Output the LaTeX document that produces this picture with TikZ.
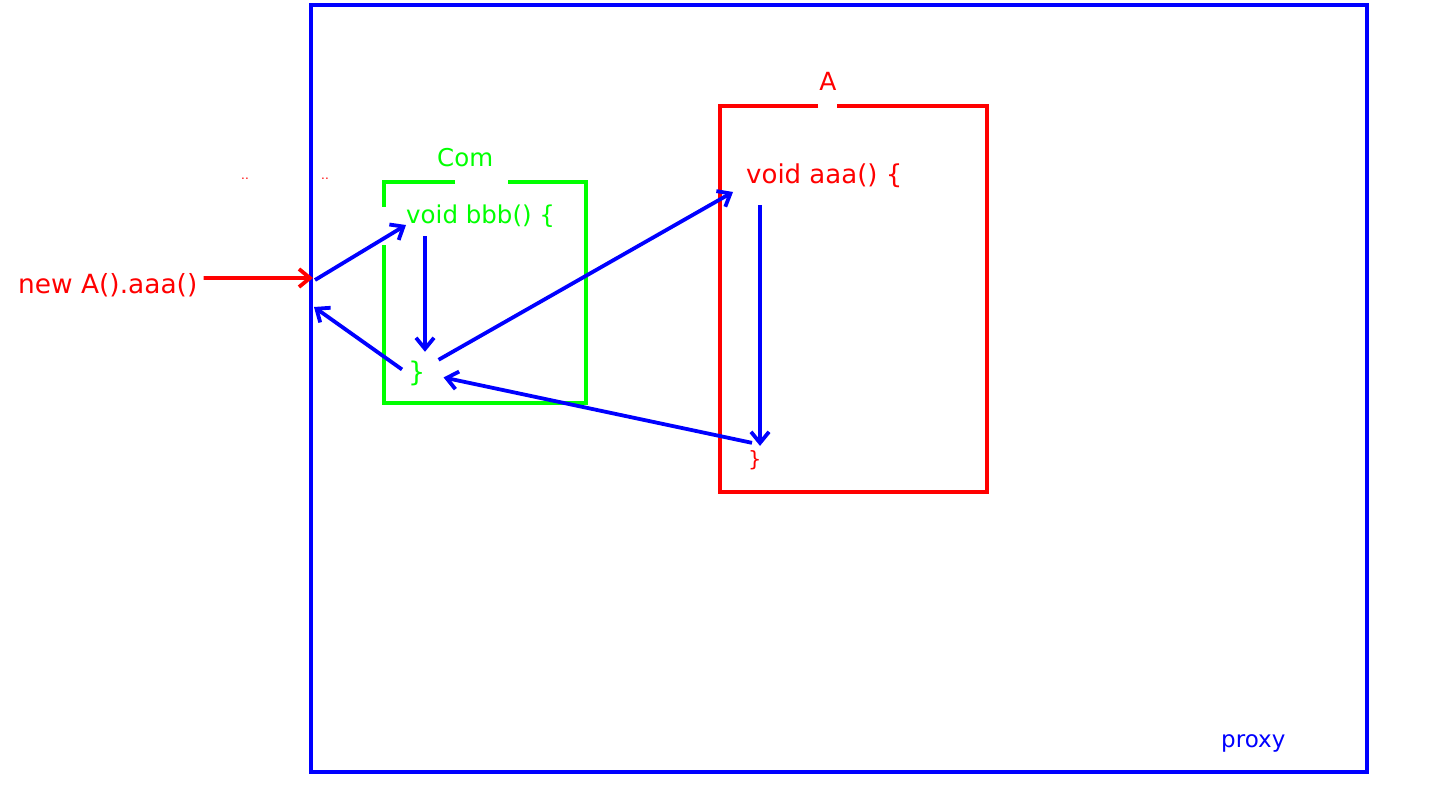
\documentclass[tikz,border=0pt]{standalone}
\usepackage{fontspec}
\setmainfont{DejaVu Sans}
\usetikzlibrary{arrows.meta}

\tikzset{
  frame/.style={line width=3.5pt},
  code/.style={inner sep=0pt, anchor=base west},
  tip/.style={-{Straight Barb[length=11pt,width=18pt]}},
  flow/.style={blue, line width=3.8pt, tip},
}

\begin{document}
\begin{tikzpicture}[x=1pt,y=-1pt]
    \useasboundingbox (0,0) rectangle (1450,784);
    % outer proxy frame
    \node[draw=blue, frame, inner sep=0pt, minimum width=1056pt, minimum height=767pt] (proxy) at (839,388.5) {};
    \node[code, blue, font=\fontsize{23}{28}\selectfont] (proxylabel) at (1221,747) {proxy};
    % Com box, gaps left by its texts
    \draw[green, frame] (455,182) -| (384,207) (384,245) |- (586,403) |- (508,182);
    \node[code, green, font=\fontsize{24.5}{29}\selectfont] (com) at (437,166) {Com};
    \node[code, green, font=\fontsize{24.5}{29}\selectfont] (bbb) at (406,223) {void bbb() \{};
    \node[code, green, font=\fontsize{27}{32}\selectfont] (gbrace) at (408,381.5) {\}};
    % A box
    \draw[red, frame] (818,106) -| (720,492) -| (987,106) -- (837,106);
    \node[inner sep=0pt, anchor=base, red, font=\fontsize{25}{30}\selectfont] (alabel) at (828,90) {A};
    \node[code, red, font=\fontsize{26}{31}\selectfont] (aaa) at (746,183) {void aaa() \{};
    \node[code, red, font=\fontsize{21}{25}\selectfont] (rbrace) at (748,466) {\}};
    % caller
    \node[code, red, font=\fontsize{26.4}{31}\selectfont] (caller) at (18,293) {new A().aaa()};
    \node[code, red, font=\fontsize{12}{14}\selectfont] (dotsa) at (241,179) {..};
    \node[code, red, font=\fontsize{12}{14}\selectfont] (dotsb) at (321,179) {..};
    \coordinate (entry) at (313,278);
    \coordinate (exit) at (314,307);
    % call path
    \draw[red, line width=3.8pt, tip] ([xshift=6pt,yshift=6.7pt]caller.east) -- (entry);
    \draw[flow] ([xshift=2pt,yshift=-2pt]entry) -- ([yshift=-2pt]bbb.base west);
    \draw[flow] ([xshift=19pt,yshift=-9pt]bbb.south west) -- ([xshift=17pt,yshift=9pt]gbrace.north west);
    \draw[flow] ([xshift=13pt,yshift=1pt]gbrace.north east) -- ([xshift=-13pt,yshift=-9pt]aaa.base west);
    \draw[flow] ([xshift=14pt,yshift=-18pt]aaa.south west) -- ([xshift=12pt,yshift=4pt]rbrace.north west);
    \draw[flow] ([xshift=4pt,yshift=7pt]rbrace.north west) -- ([xshift=18pt,yshift=-4pt]gbrace.east);
    \draw[flow] ([xshift=-6pt,yshift=4pt]gbrace.west) -- (exit);
\end{tikzpicture}
\end{document}
